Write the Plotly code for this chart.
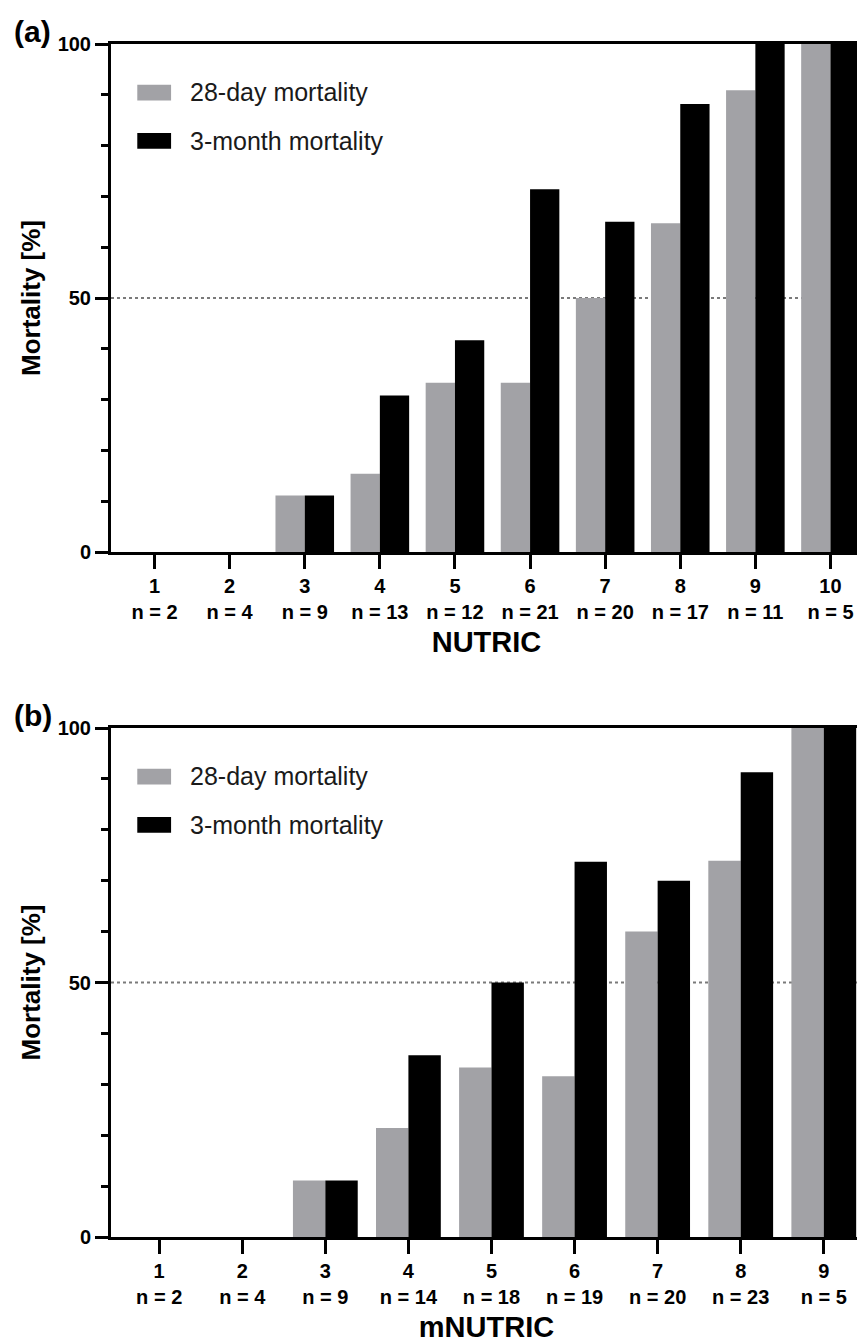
import plotly.graph_objects as go

# ---------------- data ----------------
scores_a = [1, 2, 3, 4, 5, 6, 7, 8, 9, 10]
n_a = [2, 4, 9, 13, 12, 21, 20, 17, 11, 5]
mort28_a = [0, 0, 11.1, 15.4, 33.3, 33.3, 50.0, 64.7, 90.9, 100.0]
mort3m_a = [0, 0, 11.1, 30.8, 41.7, 71.4, 65.0, 88.2, 100.0, 100.0]

scores_b = [1, 2, 3, 4, 5, 6, 7, 8, 9]
n_b = [2, 4, 9, 14, 18, 19, 20, 23, 5]
mort28_b = [0, 0, 11.1, 21.4, 33.3, 31.6, 60.0, 73.9, 100.0]
mort3m_b = [0, 0, 11.1, 35.7, 50.0, 73.7, 70.0, 91.3, 100.0]

series_names = ["28-day mortality", "3-month mortality"]
series_colors = ["#a2a2a6", "#000000"]
ref_line = 50
y_tickvals = [0, 50, 100]

FONT = "Arial, Liberation Sans, Helvetica, sans-serif"
# page body has an 8 px margin, so the figure is drawn 8 px in from the corner
OFF = 8
W, H = 865 - OFF, 1344 - OFF
L, R = 111 - OFF, 3

fig = go.Figure()

panels = [
    dict(x=scores_a, n=n_a, s=[mort28_a, mort3m_a], xa="x", ya="y",
         title="NUTRIC", label="(a)", rng=[0.42, 10.42],
         dom=[(H - (552 - OFF)) / H, (H - (44 - OFF)) / H]),
    dict(x=scores_b, n=n_b, s=[mort28_b, mort3m_b], xa="x2", ya="y2",
         title="mNUTRIC", label="(b)", rng=[0.42, 9.46],
         dom=[(H - (1237 - OFF)) / H, (H - (728 - OFF)) / H]),
]

for p in panels:
    for name, col, vals in zip(series_names, series_colors, p["s"]):
        fig.add_trace(go.Bar(
            x=p["x"], y=vals, name=name, marker=dict(color=col, line=dict(width=0)),
            xaxis=p["xa"], yaxis=p["ya"], showlegend=False,
            offsetgroup=name,
        ))

axis_common = dict(
    showgrid=False, zeroline=False, showline=True, linecolor="black", linewidth=3,
    mirror=True, ticks="outside", tickcolor="black", tickwidth=3,
    tickfont=dict(family=FONT, size=20, color="black", weight="bold"),
    automargin=False,
)

layout = dict(
    width=W, height=H,
    margin=dict(l=L, r=R, t=0, b=0),
    paper_bgcolor="white", plot_bgcolor="white",
    barmode="group", bargap=0.22, bargroupgap=0,
    font=dict(family=FONT, color="black"),
    showlegend=False,
)

shapes = []
annotations = []
plot_w = W - L - R
for i, p in enumerate(panels):
    sx = "" if i == 0 else "2"
    ticktext = [f"{v}<br>n = {k}" for v, k in zip(p["x"], p["n"])]
    layout["xaxis" + sx] = dict(
        axis_common, anchor="y" + sx, domain=[0, 1], range=p["rng"],
        tickmode="array", tickvals=p["x"], ticktext=ticktext, ticklen=14,
        title=dict(text=p["title"], font=dict(family=FONT, size=29, color="black", weight="bold"),
                   standoff=10),
    )
    layout["yaxis" + sx] = dict(
        axis_common, anchor="x" + sx, domain=p["dom"], range=[0, 100],
        tickmode="array", tickvals=y_tickvals, ticklen=13,
        minor=dict(dtick=10, tick0=0, ticks="outside", ticklen=7, tickwidth=3, tickcolor="black"),
        title=dict(text="Mortality [%]", font=dict(family=FONT, size=26, color="black", weight="bold"),
                   standoff=10),
    )
    # dotted 50% reference line
    shapes.append(dict(type="line", xref=f"x{sx} domain", yref="y" + sx, x0=0, x1=1,
                       y0=ref_line, y1=ref_line, layer="below",
                       line=dict(color="#7a7a7a", width=2, dash="dot")))
    # custom legend
    for j, (name, col) in enumerate(zip(series_names, series_colors)):
        yc = 0.905 - j * 0.095
        shapes.append(dict(type="rect", xref=f"x{sx} domain", yref=f"y{sx} domain",
                           x0=0.035, x1=0.080, y0=yc - 0.016, y1=yc + 0.015,
                           fillcolor=col, line=dict(width=0)))
        annotations.append(dict(text=name, xref=f"x{sx} domain", yref=f"y{sx} domain",
                                x=0.102, y=yc, xanchor="left", yanchor="middle", showarrow=False,
                                font=dict(family=FONT, size=25, color="#1a1a1a")))
    # panel label
    annotations.append(dict(text=f"<b>{p['label']}</b>", xref="paper", yref=f"y{sx} domain",
                            x=(12 - OFF - L) / plot_w, y=1, xanchor="left", yanchor="middle",
                            yshift=13, showarrow=False,
                            font=dict(family=FONT, size=30, color="black")))

layout["shapes"] = shapes
layout["annotations"] = annotations
fig.update_layout(**layout)

fig.write_html("out.html")
